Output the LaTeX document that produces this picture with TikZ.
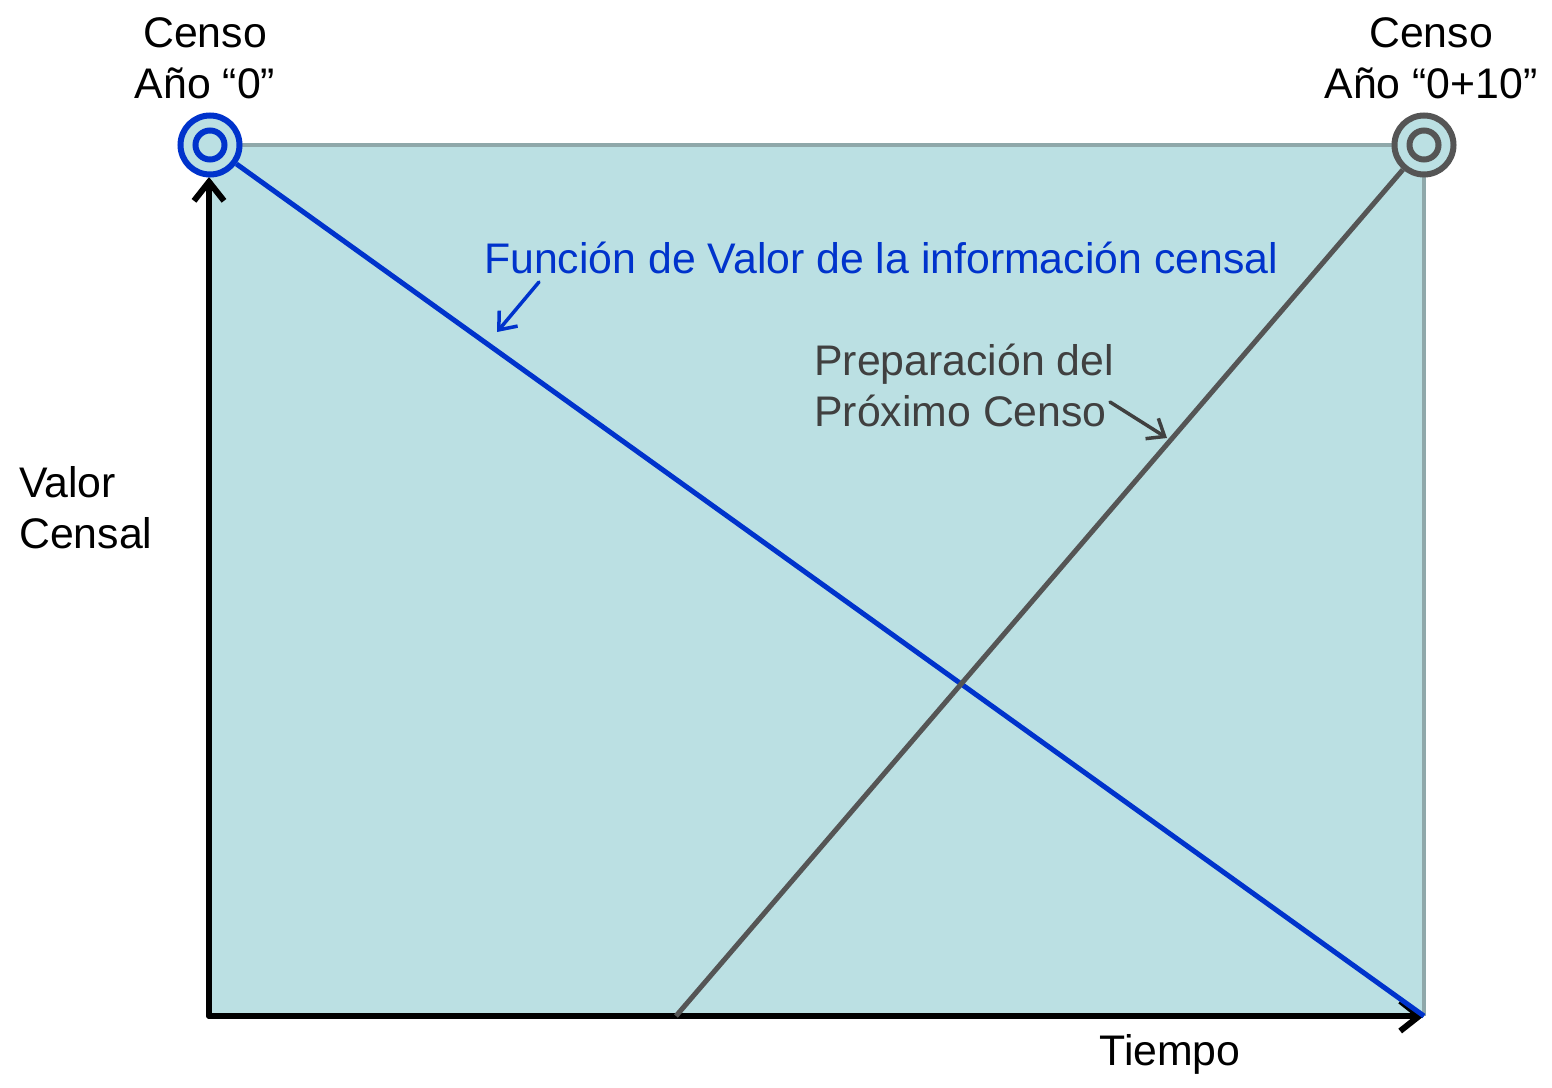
\documentclass[tikz,border=0pt]{standalone}
\usepackage{fontspec}
\setmainfont{Liberation Sans}
\usetikzlibrary{arrows.meta}
\definecolor{fillb}{HTML}{BBE0E3}
\definecolor{edgeg}{HTML}{8FA8AA}
\definecolor{blu}{HTML}{0033CC}
\definecolor{dgr}{HTML}{555555}
\definecolor{tgr}{HTML}{404040}
\begin{document}
\begin{tikzpicture}[x=1pt,y=-1pt,
  lbl/.style={font=\fontsize{42.8}{51}\selectfont, inner sep=0pt, align=center},
  ring/.style={circle, line width=6pt, inner sep=0pt},
  axis/.style={line width=5.5pt, black, line cap=round, -{Straight Barb[length=19pt,width=30pt,line width=6pt]}},
  pointer/.style={line width=3.5pt, line cap=round, -{Straight Barb[length=15pt,width=24pt,line width=3.5pt]}}]
\useasboundingbox (0,0) rectangle (1552,1087);
% panel
\fill[fillb] (210,145) rectangle (1424,1016);
\draw[edgeg, line width=4.5pt] (210,145) -- (1424,145) -- (1424,1016);
% axes
\coordinate (orig) at (209,1016);
\coordinate (ytop) at (209,177);
\coordinate (xend) at (1424,1016);
\coordinate (br) at (1424,1016);
\coordinate (gstart) at (676,1016);
\draw[axis] (orig) -- (ytop);
\draw[axis] (orig) -- (xend);
% rings
\node[ring, draw=blu, fill=fillb, minimum size=59pt] (c0) at (210,145) {};
\node[ring, draw=blu, minimum size=29pt] (c0i) at (210,145) {};
\node[ring, draw=dgr, fill=fillb, minimum size=59pt] (c1) at (1424,145) {};
\node[ring, draw=dgr, minimum size=29pt] (c1i) at (1424,145) {};
% lines
\draw[blu, line width=5pt] (c0) -- (br);
\draw[dgr, line width=5pt] (gstart) -- (c1);
% labels
\node[lbl] (t0) at (205,58) {Censo\\Año “0”};
\node[lbl] (t1) at (1431,58) {Censo\\Año “0+10”};
\node[lbl, text=blu, anchor=west] (fv) at (484,258) {Función de Valor de la información censal};
\node[lbl, text=tgr, align=left, anchor=north west] (pp) at (814,344) {Preparación del\\Próximo Censo};
\node[lbl, align=left, anchor=north west] (vc) at (19,466) {Valor\\Censal};
\node[lbl] (ti) at (1170,1054) {Tiempo};
% pointers
\coordinate (fa1) at (539,282);
\coordinate (fa2) at (497,332);
\draw[pointer, blu] (fa1) -- (fa2);
\coordinate (pa1) at (1110,402);
\coordinate (pa2) at (1167,438);
\draw[pointer, tgr] (pa1) -- (pa2);
\end{tikzpicture}
\end{document}
